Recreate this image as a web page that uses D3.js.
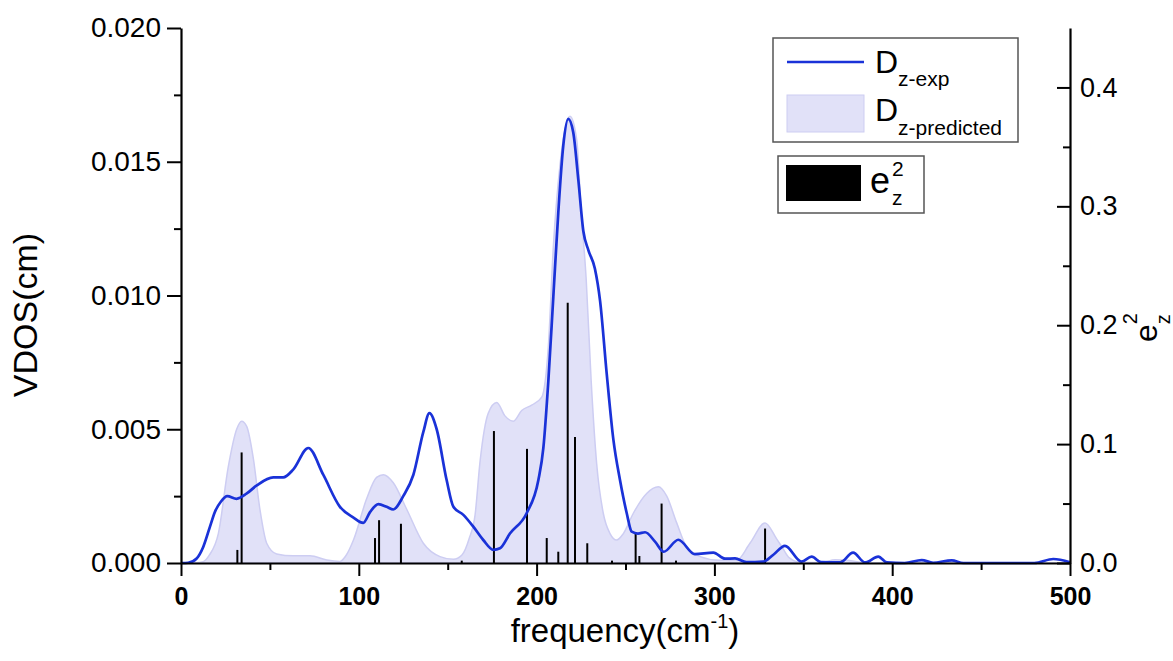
<!DOCTYPE html>
<html>
<head>
<meta charset="utf-8">
<script src="https://d3js.org/d3.v7.min.js"></script>
<style>
  body { margin: 0; background: #fff; }
  text { font-family: "Liberation Sans", Arial, sans-serif; }
</style>
</head>
<body>
<script>
// measured D_z (experimental) curve
var expFreq = [0, 4, 8.8, 12.5, 16.3, 19, 22.5, 26, 31.3, 37, 42.6, 51.9, 57.5, 63.2, 71.6, 80, 89.4,
  97, 102.5, 106.3, 111, 115.7, 119.4, 125, 130.7, 136.3, 139.7, 143.8, 149.4, 153.2, 158.8,
  164.4, 170, 175.7, 179.4, 185, 194.4, 201, 203.8, 206.6, 209.4, 212.2, 215, 217.8, 220.6,
  223.5, 226.3, 229.1, 232.8, 235.7, 239.4, 243.2, 246.9, 250.7, 253.5, 257, 261, 266.6, 271.5,
  279.7, 289, 299.4, 306, 311.6, 318, 327.5, 333, 339.7, 349, 354.7, 360, 370.7, 378, 384.7,
  392.2, 397, 407, 416.6, 423, 433.5, 440, 480, 490.6, 500];
var expVdos = [0, 0.00001, 0.00017, 0.0006, 0.00136, 0.0019, 0.0023, 0.0025, 0.0024, 0.0026, 0.0029, 0.0032, 0.0032, 0.0035, 0.0043, 0.0033, 0.0021,
  0.0017, 0.0015, 0.0019, 0.0022, 0.0021, 0.0020, 0.0025, 0.0033, 0.0049, 0.0056, 0.0050, 0.0031, 0.0021, 0.0018,
  0.00136, 0.00086, 0.00049, 0.00055, 0.0011, 0.00186, 0.0031, 0.0043, 0.0068, 0.00995, 0.0131, 0.0156, 0.0166, 0.0161,
  0.0143, 0.0124, 0.0117, 0.0110, 0.0098, 0.0071, 0.0046, 0.0031, 0.00186, 0.00117, 0.0011, 0.00115, 0.0008, 0.00042,
  0.00087, 0.00033, 0.00039, 0.00016, 0.00017, 0.00003, 0.00005, 0.0003, 0.00064, 0.00005, 0.00024, 0.00003, 0.00002, 0.00039, 0.00002,
  0.00024, 0.00002, 0, 0.00011, 0.00001, 0.0001, 0, 0, 0.00015, 0.00003];

// predicted D_z (shaded)
var predFreq = [0, 8, 12.5, 16, 21, 26.6, 31.3, 34.1, 37, 40.7, 44.4, 48.2, 53.8, 63.2, 72.6, 82, 89.4,
  93, 97, 104.4, 110, 113.8, 119.4, 127, 136.3, 145.7, 153.2, 158, 162, 165.4, 168.2, 172.8, 177.6,
  182.2, 187, 191.6, 197.2, 202.9, 206.6, 209.4, 213.2, 218.8, 222.6, 225, 227.9, 230.7, 233.8, 237.5,
  241.3, 245, 248.8, 254.4, 261.9, 268.5, 273.2, 278.8, 284.4, 292, 303, 312.5, 320, 328.5, 335, 338,
  342, 348, 360, 368, 375, 385, 500];
var predVdos = [0, 0.00001, 0.00005, 0.0003, 0.0011, 0.0036, 0.0050, 0.0053, 0.0051, 0.0039, 0.0020, 0.00074, 0.00034, 0.00027, 0.00027, 0.00011, 0.00006,
  0.0003, 0.00086, 0.0024, 0.0032, 0.0033, 0.0030, 0.0020, 0.00074, 0.00024, 0.00014, 0.0003, 0.0009, 0.0018, 0.0038, 0.0056, 0.0060,
  0.0055, 0.0053, 0.0057, 0.0059, 0.0062, 0.0081, 0.0118, 0.0149, 0.0167, 0.0158, 0.0132, 0.0106, 0.0068, 0.0037, 0.00186,
  0.0011, 0.00086, 0.0011, 0.00186, 0.0026, 0.00285, 0.0025, 0.0015, 0.0006, 0.00024, 0.0001, 0.0001, 0.00074, 0.0015, 0.0009, 0.0006,
  0.0002, 0.00003, 0.00002, 0.00012, 0.0001, 0, 0];

// e_z^2 sticks (right axis)
var stickFreq = [31.7, 34.1, 109.1, 111.4, 123.7, 157.9, 176, 194.6, 205.7, 212.2, 217.5, 221.6,
  228.5, 242.4, 255.7, 257.8, 270.3, 278.4, 328.5, 371.6];
var stickE2 = [0.011, 0.093, 0.021, 0.036, 0.033, 0.002, 0.111, 0.096, 0.021, 0.0095, 0.219, 0.106,
  0.0166, 0.002, 0.025, 0.0059, 0.050, 0.002, 0.029, 0.002];

var xTicks = [0, 100, 200, 300, 400, 500];
var xMinor = [50, 150, 250, 350, 450];
var yLTicks = [0, 0.005, 0.010, 0.015, 0.020];
var yLMinor = [0.0025, 0.0075, 0.0125, 0.0175];
var yRTicks = [0, 0.1, 0.2, 0.3, 0.4];
var yRMinor = [0.05, 0.15, 0.25, 0.35];

var W = 1173, H = 661;
var x = d3.scaleLinear().domain([0, 500]).range([181, 1070]);
var yL = d3.scaleLinear().domain([0, 0.020]).range([563, 28]);
var yR = d3.scaleLinear().domain([0, 0.45]).range([563, 28]);

var svg = d3.select("body").append("svg")
  .attr("width", W)
  .attr("height", H);

var expData = expFreq.map(function (f, i) { return { f: f, v: expVdos[i] }; });
var predData = predFreq.map(function (f, i) { return { f: f, v: predVdos[i] }; });
var stickData = stickFreq.map(function (f, i) { return { f: f, v: stickE2[i] }; });

// shaded prediction
var area = d3.area()
  .x(function (d) { return x(d.f); })
  .y0(yL(0))
  .y1(function (d) { return yL(d.v); })
  .curve(d3.curveMonotoneX);

svg.append("path")
  .datum(predData)
  .attr("d", area)
  .attr("fill", "#e1e1f8")
  .attr("stroke", "#cdcdf2")
  .attr("stroke-width", 1.5);

// sticks
svg.selectAll(".stick")
  .data(stickData)
  .enter().append("line")
  .attr("class", "stick")
  .attr("x1", function (d) { return x(d.f); })
  .attr("x2", function (d) { return x(d.f); })
  .attr("y1", yR(0))
  .attr("y2", function (d) { return yR(d.v); })
  .attr("stroke", "#000")
  .attr("stroke-width", 2);

// experimental line
var line = d3.line()
  .x(function (d) { return x(d.f); })
  .y(function (d) { return yL(d.v); })
  .curve(d3.curveMonotoneX);

svg.append("path")
  .datum(expData)
  .attr("d", line)
  .attr("fill", "none")
  .attr("stroke", "#1a32d8")
  .attr("stroke-width", 2.7);

// axes
function styleAxis(g, size, bold) {
  g.select(".domain").attr("stroke-width", 2.2);
  g.selectAll(".tick line").attr("stroke-width", 2);
  g.selectAll(".tick text")
    .style("font-size", size + "px")
    .style("font-family", '"Liberation Sans", Arial, sans-serif')
    .style("font-weight", bold ? "bold" : "normal")
    .attr("fill", "#000");
}

var gx = svg.append("g").attr("transform", "translate(0," + yL(0) + ")")
  .call(d3.axisBottom(x).tickValues(xTicks).tickSizeInner(13).tickSizeOuter(0).tickPadding(11).tickFormat(d3.format("d")));
styleAxis(gx, 25, true);
var gxm = svg.append("g").attr("transform", "translate(0," + yL(0) + ")")
  .call(d3.axisBottom(x).tickValues(xMinor).tickSize(7).tickFormat(""));
gxm.select(".domain").remove();
gxm.selectAll(".tick line").attr("stroke-width", 2);

var gy = svg.append("g").attr("transform", "translate(" + x(0) + ",0)")
  .call(d3.axisLeft(yL).tickValues(yLTicks).tickSizeInner(14).tickSizeOuter(0).tickPadding(6).tickFormat(d3.format(".3f")));
styleAxis(gy, 28, false);
var gym = svg.append("g").attr("transform", "translate(" + x(0) + ",0)")
  .call(d3.axisLeft(yL).tickValues(yLMinor).tickSize(7).tickFormat(""));
gym.select(".domain").remove();
gym.selectAll(".tick line").attr("stroke-width", 2);

var gr = svg.append("g").attr("transform", "translate(" + x(500) + ",0)")
  .call(d3.axisRight(yR).tickValues(yRTicks).tickSizeInner(-13).tickSizeOuter(0).tickPadding(10).tickFormat(d3.format(".1f")));
styleAxis(gr, 27, false);
var grm = svg.append("g").attr("transform", "translate(" + x(500) + ",0)")
  .call(d3.axisRight(yR).tickValues(yRMinor).tickSize(-7).tickFormat(""));
grm.select(".domain").remove();
grm.selectAll(".tick line").attr("stroke-width", 2);

// axis titles
svg.append("text")
  .attr("transform", "translate(37,315) rotate(-90)")
  .attr("text-anchor", "middle")
  .style("font-size", "34px")
  .text("VDOS(cm)");

var xt = svg.append("text")
  .attr("x", 625)
  .attr("y", 642)
  .attr("text-anchor", "middle")
  .style("font-size", "33px");
xt.append("tspan").text("frequency(cm");
xt.append("tspan").attr("dy", -14).style("font-size", "20px").text("-1");
xt.append("tspan").attr("dy", 14).text(")");

// base glyph with stacked superscript / subscript
function richLabel(parent, base, baseSize, sup, sub, subSize, supDy, subDy, gap) {
  var t = parent.append("text").attr("x", 0).attr("y", 0).style("font-size", baseSize + "px").text(base);
  var w = t.node().getComputedTextLength();
  if (sup) parent.append("text").attr("x", w + gap).attr("y", supDy).style("font-size", subSize + "px").text(sup);
  if (sub) parent.append("text").attr("x", w + gap).attr("y", subDy).style("font-size", subSize + "px").text(sub);
}

var rl = svg.append("g").attr("transform", "translate(1157,342) rotate(-90)");
richLabel(rl, "e", 32, "2", "z", 20, -20, 13, 0);

// legend 1
var lg = svg.append("g");
lg.append("rect")
  .attr("x", 773).attr("y", 38).attr("width", 245).attr("height", 104)
  .attr("fill", "#fff").attr("stroke", "#555").attr("stroke-width", 1.5);
lg.append("line")
  .attr("x1", 787).attr("x2", 864).attr("y1", 62).attr("y2", 62)
  .attr("stroke", "#1a32d8").attr("stroke-width", 2.7);
lg.append("rect")
  .attr("x", 787).attr("y", 95).attr("width", 77).attr("height", 37)
  .attr("fill", "#e1e1f8").attr("stroke", "#cdcdf2").attr("stroke-width", 1);
richLabel(lg.append("g").attr("transform", "translate(875,73)"), "D", 32, null, "z-exp", 21, 0, 13, 0);
richLabel(lg.append("g").attr("transform", "translate(875,121)"), "D", 32, null, "z-predicted", 21, 0, 14, 0);

// legend 2
var lg2 = svg.append("g");
lg2.append("rect")
  .attr("x", 778).attr("y", 156).attr("width", 146).attr("height", 57)
  .attr("fill", "#fff").attr("stroke", "#555").attr("stroke-width", 1.5);
lg2.append("rect")
  .attr("x", 786).attr("y", 165).attr("width", 75).attr("height", 36)
  .attr("fill", "#000");
richLabel(lg2.append("g").attr("transform", "translate(870,193)"), "e", 36, "2", "z", 21, -17, 12, 2);
</script>
</body>
</html>
